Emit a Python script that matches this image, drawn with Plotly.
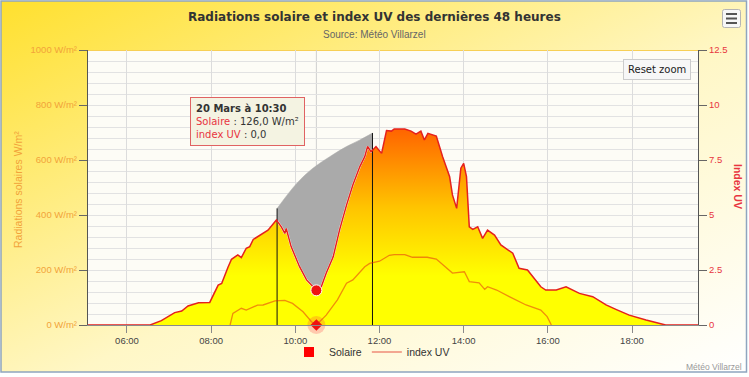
import base64
import numpy as np
import pandas as pd
import plotly.graph_objects as go

DAY = "2015-03-20"

# ---- data ----
solar_times = ["05:00", "06:33", "06:49", "07:08", "07:18", "07:27", "07:42", "07:53", "07:58",
               "08:10", "08:15", "08:24", "08:29", "08:38", "08:43", "08:50", "08:55", "09:00",
               "09:16", "09:21", "09:33", "09:40", "09:45", "09:47", "09:54", "10:06", "10:16",
               "10:25", "10:30", "10:37", "10:44", "10:54", "11:03", "11:13", "11:22", "11:32",
               "11:39", "11:43", "11:48", "11:55", "12:03", "12:10", "12:17", "12:21", "12:36",
               "12:45", "12:52", "12:59", "13:04", "13:09", "13:21", "13:30", "13:40", "13:44",
               "13:50", "13:56", "14:00", "14:04", "14:08", "14:13", "14:20", "14:27", "14:34",
               "14:44", "14:53", "15:10", "15:19", "15:31", "15:50", "15:57", "16:12", "16:26",
               "16:45", "17:04", "17:23", "17:37", "17:56", "18:20", "18:41", "18:48", "19:40"]
solar_values = [0, 0, 16, 45, 51, 69, 81, 81, 82,
                145, 151, 210, 239, 255, 245, 279, 285, 311,
                339, 345, 382, 357, 333, 351, 285, 212, 164,
                139, 126, 139, 188, 248, 345, 436, 509, 576,
                612, 649, 630, 649, 624, 707, 705, 713, 713,
                705, 694, 705, 673, 697, 687, 612, 539, 473,
                424, 570, 588, 540, 357, 348, 357, 315, 345,
                327, 291, 261, 206, 200, 139, 127, 127, 139,
                115, 103, 73, 57, 36, 18, 6, 0, 0]

uv_times = ["08:27", "08:31", "08:43", "08:50", "09:06", "09:14", "09:31", "09:45", "09:56",
            "10:11", "10:23", "10:30", "10:44", "11:00", "11:13", "11:22", "11:39", "11:46",
            "12:00", "12:14", "12:21", "12:36", "12:47", "13:08", "13:21", "13:44", "14:01",
            "14:08", "14:22", "14:30", "14:34", "14:47", "15:05", "15:29", "15:50", "15:59", "16:05"]
uv_values = [0, 0.53, 0.76, 0.68, 0.9, 0.91, 1.1, 1.12, 0.98,
             0.6, 0.15, 0, 0.45, 1.14, 1.9, 2.05, 2.65, 2.8,
             2.9, 3.17, 3.2, 3.2, 3.08, 3.08, 3.0, 2.36, 2.42,
             1.97, 1.92, 1.62, 1.74, 1.59, 1.29, 0.91, 0.68, 0.38, 0]

# grey selection wedge (upper edge) seen on the chart
wedge_times = ["09:34", "10:02", "10:25", "10:49", "11:13", "11:32", "11:50"]
wedge_values = [424, 515, 570, 612, 649, 673, 698]

hover_time = "10:30"
x_ticks = ["06:00", "08:00", "10:00", "12:00", "14:00", "16:00", "18:00"]
y_left_ticks = [0, 200, 400, 600, 800, 1000]
y_right_ticks = [0, 2.5, 5, 7.5, 10, 12.5]

title = "Radiations solaire et index UV des dernières 48 heures"
subtitle = "Source: Météo Villarzel"
credit = "Météo Villarzel"


# ---- helpers ----
def ts(t):
    return f"{DAY} {t}"


def to_min(t):
    h, m = t.split(":")
    return int(h) * 60 + int(m)


base = pd.Timestamp(DAY)


def min_to_ts(m):
    return base + pd.to_timedelta(float(m), unit="m")


sol_m = np.array([to_min(t) for t in solar_times], dtype=float)
sol_v = np.array(solar_values, dtype=float)
w_start, w_end = to_min(wedge_times[0]), to_min(wedge_times[-1])
lower_m = [w_start] + [m for m in sol_m if w_start < m < w_end] + [w_end]
lower_v = list(np.interp(lower_m, sol_m, sol_v))

hover_solar = solar_values[solar_times.index(hover_time)]
hover_uv = uv_values[uv_times.index(hover_time)]

FONT = "DejaVu Sans, Liberation Sans, sans-serif"
TFONT = "Liberation Sans, Arial, sans-serif"

W, H = 749, 377
L, R, T, B = 88, 698, 50, 325
PW, PH = R - L, B - T

# ---- background (chart gradient, frame, plot area, menu button) ----
svg = f"""<svg xmlns='http://www.w3.org/2000/svg' width='{W}' height='{H}' viewBox='0 0 {W} {H}' preserveAspectRatio='none'>
<defs><linearGradient id='g' x1='0' y1='0' x2='1' y2='1'>
<stop offset='0' stop-color='#FFE02E'/><stop offset='0.55' stop-color='#FFF7C6'/><stop offset='1' stop-color='#FFFFFF'/>
</linearGradient></defs>
<rect width='{W}' height='{H}' fill='#FFFFFF'/>
<rect x='1' y='1' width='745.5' height='371' fill='url(#g)' stroke='#8FA5BF' stroke-width='1.5'/>
<rect x='{L}' y='{T}' width='{PW}' height='{PH}' fill='#FDFCF6'/>
<line x1='{L}' y1='{T + 0.5}' x2='{R}' y2='{T + 0.5}' stroke='#F7CF55' stroke-width='1.2'/>
<rect x='722.5' y='9.5' width='18' height='18' rx='2' fill='#F7F7F7' stroke='#B5B5B5'/>
<line x1='726' y1='14' x2='737' y2='14' stroke='#555' stroke-width='2'/>
<line x1='726' y1='18.5' x2='737' y2='18.5' stroke='#555' stroke-width='2'/>
<line x1='726' y1='23' x2='737' y2='23' stroke='#555' stroke-width='2'/>
</svg>"""
bg_uri = "data:image/svg+xml;base64," + base64.b64encode(svg.encode()).decode()

fig = go.Figure()

# 1. solar area with vertical gradient
fig.add_trace(go.Scatter(
    x=[ts(t) for t in solar_times], y=solar_values, mode="lines",
    line=dict(width=0), fill="tozeroy",
    fillgradient=dict(type="vertical", start=0, stop=max(solar_values),
                      colorscale=[[0, "#FFFF00"], [0.25, "#FFFF00"], [0.6, "#FFC400"], [1, "#FF6400"]]),
    showlegend=False, hoverinfo="skip"))

# 2. lower edge of the grey wedge
fig.add_trace(go.Scatter(
    x=[min_to_ts(m) for m in lower_m], y=lower_v, mode="lines",
    line=dict(color="#FFFFFF", width=2), showlegend=False, hoverinfo="skip"))

# 3. grey wedge
fig.add_trace(go.Scatter(
    x=[ts(t) for t in wedge_times], y=wedge_values, mode="lines",
    line=dict(color="#AAAAAA", width=0.5, shape="spline"), fill="tonexty", fillcolor="#AAAAAA",
    showlegend=False, hoverinfo="skip"))

# 4. black vertical lines at the wedge ends
fig.add_trace(go.Scatter(
    x=[ts(wedge_times[0]), ts(wedge_times[0]), None, ts(wedge_times[-1]), ts(wedge_times[-1])],
    y=[0, wedge_values[0], None, 0, wedge_values[-1]], mode="lines",
    line=dict(color="#111111", width=1), showlegend=False, hoverinfo="skip"))

# 5. solar line
fig.add_trace(go.Scatter(
    x=[ts(t) for t in solar_times], y=solar_values, mode="lines",
    line=dict(color="#E5211D", width=1.5), showlegend=False, hoverinfo="skip"))

# 6. UV line
fig.add_trace(go.Scatter(
    x=[ts(t) for t in uv_times], y=uv_values, mode="lines", yaxis="y2",
    line=dict(color="rgba(226,30,20,0.5)", width=1.3), name="index UV", legendrank=2))

# legend entry for Solaire
fig.add_trace(go.Scatter(
    x=[None], y=[None], mode="markers", name="Solaire", legendrank=1,
    marker=dict(symbol="square", size=10, color="#FF0000")))

# hover markers
fig.add_trace(go.Scatter(
    x=[ts(hover_time)], y=[hover_uv], yaxis="y2", mode="markers", showlegend=False,
    cliponaxis=False,
    marker=dict(symbol="circle", size=18, color="rgba(255,60,60,0.25)", line=dict(width=0)),
    hoverinfo="skip"))
fig.add_trace(go.Scatter(
    x=[ts(hover_time)], y=[hover_uv], yaxis="y2", mode="markers", showlegend=False,
    cliponaxis=False,
    marker=dict(symbol="diamond", size=9, color="#EE1111", line=dict(width=0)), hoverinfo="skip"))
fig.add_trace(go.Scatter(
    x=[ts(hover_time)], y=[hover_solar], mode="markers", showlegend=False,
    cliponaxis=False,
    marker=dict(symbol="circle", size=11, color="#EE1111", line=dict(color="#FFFFFF", width=1)),
    hoverinfo="skip"))

AX_LEFT = "#F2A33A"
AX_RIGHT = "#E8353F"

fig.update_layout(
    width=W, height=H,
    margin=dict(l=L, r=W - R, t=T, b=H - B, autoexpand=False),
    paper_bgcolor="rgba(0,0,0,0)", plot_bgcolor="rgba(0,0,0,0)",
    font=dict(family=TFONT, size=10, color="#333333"),
    showlegend=True,
    legend=dict(orientation="h", x=(372 - L) / PW, y=1 - (352 - T) / PH,
                xanchor="center", yanchor="middle", bgcolor="rgba(0,0,0,0)",
                font=dict(family=TFONT, size=10.5, color="#333333"), itemwidth=30,
                traceorder="normal"),
    xaxis=dict(type="date",
               range=[f"{DAY} 05:04:25", f"{DAY} 19:34:05"],
               tickvals=[ts(t) for t in x_ticks], ticktext=x_ticks,
               showgrid=True, gridcolor="#DCDCDC", gridwidth=1,
               showline=True, linecolor="#8A8A8A", linewidth=1,
               ticks="outside", ticklen=7, tickcolor="#8A8A8A",
               tickfont=dict(family=TFONT, size=9.5, color="#444444"),
               zeroline=False, fixedrange=True),
    yaxis=dict(range=[0, 1000], tickvals=y_left_ticks,
               ticktext=[f"{v} W/m²" for v in y_left_ticks],
               showgrid=True, gridcolor="#E2E2E2", gridwidth=1,
               minor=dict(dtick=40, showgrid=True, gridcolor="#E2E2E2", gridwidth=1),
               showline=True, linecolor="#555555", linewidth=1.2,
               ticks="outside", ticklen=8, tickcolor="#666666",
               tickfont=dict(family=TFONT, size=9.5, color=AX_LEFT),
               zeroline=False, fixedrange=True),
    yaxis2=dict(range=[0, 12.5], overlaying="y", side="right", tickvals=y_right_ticks,
                ticktext=[f"{v:g}" for v in y_right_ticks],
                showgrid=False, showline=True, linecolor="#555555", linewidth=1.2,
                ticks="outside", ticklen=8, tickcolor="#666666",
                tickfont=dict(family=TFONT, size=9.5, color=AX_RIGHT),
                zeroline=False, fixedrange=True),
    images=[dict(source=bg_uri, xref="paper", yref="paper",
                 x=-L / PW, y=1 + T / PH, sizex=W / PW, sizey=H / PH,
                 xanchor="left", yanchor="top", sizing="stretch", layer="below")],
    shapes=[dict(type="line", xref="x", yref="paper", x0=ts(hover_time), x1=ts(hover_time),
                 y0=0, y1=1, line=dict(color="#CFCFCF", width=1), layer="below")],
)


def px_x(px):
    return (px - L) / PW


def px_y(py):
    return 1 - (py - T) / PH


fmt = lambda v: f"{v:.1f}".replace(".", ",")
tooltip = (f"<b>20 Mars à {hover_time}</b><br>"
           f"<span style='color:#E8353F'>Solaire</span> : {fmt(hover_solar)} W/m²<br>"
           f"<span style='color:#E8353F'>index UV</span> : {fmt(hover_uv)}")

annotations = [
    dict(text=f"<b>{title}</b>", x=px_x(374), y=px_y(17), xref="paper", yref="paper",
         showarrow=False, xanchor="center", yanchor="middle",
         font=dict(family=FONT, size=12, color="#333333")),
    dict(text=subtitle, x=px_x(374), y=px_y(34), xref="paper", yref="paper",
         showarrow=False, xanchor="center", yanchor="middle",
         font=dict(family=TFONT, size=10, color="#666666")),
    dict(text="Radiations solaires W/m²", x=px_x(18), y=px_y(190), xref="paper", yref="paper",
         showarrow=False, xanchor="center", yanchor="middle", textangle=-90,
         font=dict(family=TFONT, size=10.5, color=AX_LEFT)),
    dict(text="<b>Index UV</b>", x=px_x(738), y=px_y(186), xref="paper", yref="paper",
         showarrow=False, xanchor="center", yanchor="middle", textangle=90,
         font=dict(family=TFONT, size=10.5, color=AX_RIGHT)),
    dict(text=tooltip, x=px_x(247), y=px_y(121), xref="paper", yref="paper",
         showarrow=False, xanchor="center", yanchor="middle", align="left",
         bgcolor="#F4F3E2", bordercolor="#E06262", borderwidth=1, borderpad=5,
         font=dict(family=FONT, size=10, color="#333333")),
    dict(text="Reset zoom", x=px_x(656.5), y=px_y(69), xref="paper", yref="paper",
         showarrow=False, xanchor="center", yanchor="middle",
         bgcolor="#F7F7F7", bordercolor="#CCCCCC", borderwidth=1, borderpad=4,
         font=dict(family=FONT, size=10, color="#222222")),
    dict(text=credit, x=px_x(744), y=px_y(367), xref="paper", yref="paper",
         showarrow=False, xanchor="right", yanchor="middle",
         font=dict(family=TFONT, size=8.5, color="#999999")),
]
fig.update_layout(annotations=annotations)

fig.write_html("out.html", config={"displayModeBar": False},
               post_script="document.body.style.margin='0';document.body.style.overflow='hidden';")
